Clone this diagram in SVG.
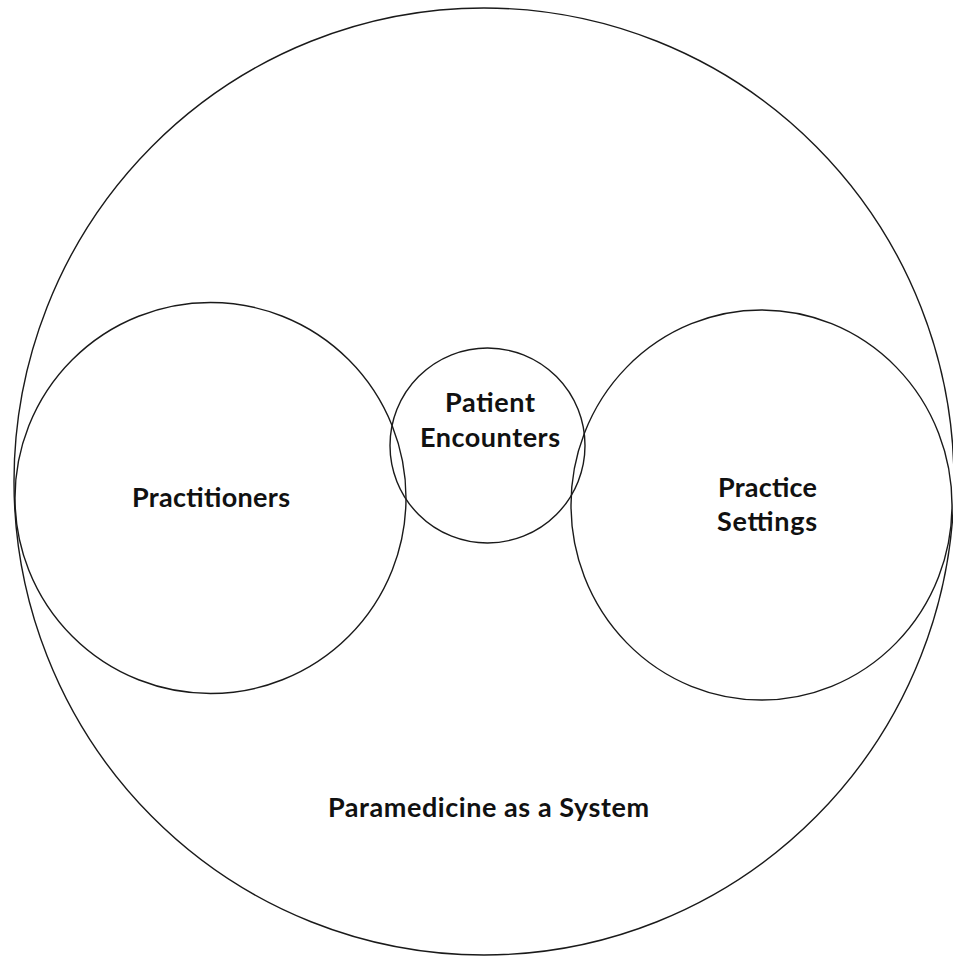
<svg xmlns="http://www.w3.org/2000/svg" width="953" height="959" viewBox="0 0 953 959">
<style>
.c{fill:none;stroke:#1a1a1a;stroke-width:1.4}
.t{font-family:Lato,"Liberation Sans",sans-serif;font-weight:bold;font-size:27px;fill:#111;text-anchor:middle}
</style>
<rect width="953" height="959" fill="#fff"/>
<g id="system">
<ellipse class="c" cx="484" cy="481.5" rx="470" ry="473.5"/>
<text class="t" x="488.5" y="817" textLength="321">Paramedicine as a System</text>
</g>
<g id="practitioners">
<circle class="c" cx="210.5" cy="498" r="195.5"/>
<text class="t" x="211" y="507" textLength="158">Practitioners</text>
</g>
<g id="patient-encounters">
<circle class="c" cx="487.5" cy="445.5" r="97.5"/>
<text class="t" x="490" y="412" textLength="90">Patient</text>
<text class="t" x="490" y="447" textLength="140">Encounters</text>
</g>
<g id="practice-settings">
<ellipse class="c" cx="761.5" cy="505" rx="190.5" ry="195"/>
<text class="t" x="767.5" y="497" textLength="99">Practice</text>
<text class="t" x="767" y="531" textLength="100">Settings</text>
</g>
<g id="connectors"></g>
</svg>
